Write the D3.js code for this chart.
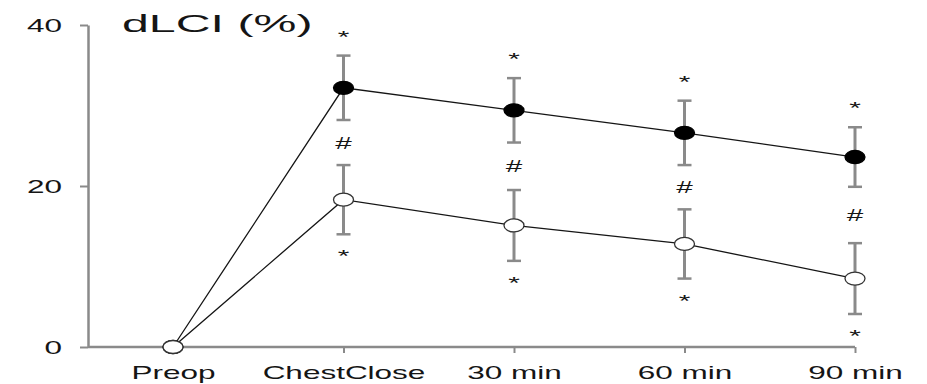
<!DOCTYPE html>
<html>
<head>
<meta charset="utf-8">
<script src="https://cdn.jsdelivr.net/npm/d3@7"></script>
<style>
  body { margin: 0; background: #fff; }
  svg { display: block; font-family: "Liberation Sans", Arial, sans-serif; }
</style>
</head>
<body>
<svg id="chart" width="927" height="384"></svg>
<script>
// data
const categories = ["Preop", "ChestClose", "30 min", "60 min", "90 min"];
const filledMean = [0, 32.2, 29.4, 26.6, 23.6];
const filledErr  = [0, 4.0, 4.0, 4.0, 3.7];
const openMean   = [0, 18.3, 15.1, 12.8, 8.5];
const openErr    = [0, 4.3, 4.4, 4.3, 4.4];
const yTicks = [0, 20, 40];
const sigTop = ["", "*", "*", "*", "*"];   // above filled
const sigMid = ["", "#", "#", "#", "#"];   // between groups
const sigBot = ["", "*", "*", "*", "*"];   // below open

const axisX0 = 88, sx = 1.75;   // the picture is stretched horizontally
const grey = "#8a8a8a", ink = "#151515";

const svg = d3.select("#chart");
const x = d3.scalePoint().domain(categories).range([173, 855]);
const y = d3.scaleLinear().domain([0, 40]).range([347, 25]);

// y axis
const gy = svg.append("g").attr("transform", `translate(${axisX0},0)`)
    .call(d3.axisLeft(y).tickValues(yTicks).tickSize(8).tickSizeOuter(0));
gy.select(".domain").attr("stroke", grey).attr("stroke-width", 2.5);
gy.selectAll(".tick line").attr("stroke", grey).attr("stroke-width", 2);
gy.selectAll(".tick text")
    .attr("x", null).attr("dy", "0.36em")
    .attr("transform", `translate(-26,0) scale(${sx},1)`)
    .attr("fill", ink).attr("font-size", 18);

// x axis
svg.append("line")
    .attr("x1", axisX0).attr("x2", x(categories[categories.length - 1]))
    .attr("y1", y(0)).attr("y2", y(0))
    .attr("stroke", grey).attr("stroke-width", 2.5);
const gx = svg.append("g").attr("transform", `translate(0,${y(0)})`)
    .call(d3.axisBottom(x).tickSize(6).tickSizeOuter(0));
gx.select(".domain").remove();
gx.selectAll(".tick line").attr("stroke", grey).attr("stroke-width", 2);
gx.selectAll(".tick text")
    .attr("y", null).attr("dy", null)
    .attr("transform", `translate(0,32) scale(${sx},1)`)
    .attr("fill", ink).attr("font-size", 18);

// title
svg.append("text").text("dLCI (%)")
    .attr("transform", `translate(122,32) scale(2.1,1)`)
    .attr("fill", ink).attr("font-size", 23);

function drawSeries(mean, err, filled) {
    const pts = categories.map((c, i) => ({ c, m: mean[i], e: err[i] }));
    const g = svg.append("g");
    g.append("path").datum(pts)
        .attr("fill", "none").attr("stroke", ink).attr("stroke-width", 1.3)
        .attr("d", d3.line().x(d => x(d.c)).y(d => y(d.m)));
    const eb = g.selectAll(".eb").data(pts.filter(d => d.e > 0)).enter().append("g")
        .attr("stroke", grey).attr("stroke-width", 3);
    eb.append("line").attr("x1", d => x(d.c)).attr("x2", d => x(d.c))
        .attr("y1", d => y(d.m + d.e)).attr("y2", d => y(d.m - d.e));
    eb.append("line").attr("x1", d => x(d.c) - 7).attr("x2", d => x(d.c) + 7)
        .attr("y1", d => y(d.m + d.e)).attr("y2", d => y(d.m + d.e)).attr("stroke-width", 2.5);
    eb.append("line").attr("x1", d => x(d.c) - 7).attr("x2", d => x(d.c) + 7)
        .attr("y1", d => y(d.m - d.e)).attr("y2", d => y(d.m - d.e)).attr("stroke-width", 2.5);
    g.selectAll("ellipse").data(pts).enter().append("ellipse")
        .attr("cx", d => x(d.c)).attr("cy", d => y(d.m))
        .attr("rx", 10).attr("ry", 6.5)
        .attr("fill", filled ? "#000" : "#fff")
        .attr("stroke", filled ? "#000" : "#333").attr("stroke-width", 1.3);
}
drawSeries(filledMean, filledErr, true);
drawSeries(openMean, openErr, false);

// significance marks
function mark(txt, cx, cy) {
    svg.append("text").text(txt)
        .attr("transform", `translate(${cx},${cy}) scale(${sx},1)`)
        .attr("text-anchor", "middle").attr("fill", ink).attr("font-size", 17);
}
categories.forEach((c, i) => {
    if (sigTop[i]) mark(sigTop[i], x(c), y(filledMean[i] + filledErr[i]) - 13);
    if (sigMid[i]) {
        const mid = (y(filledMean[i] - filledErr[i]) + y(openMean[i] + openErr[i])) / 2;
        mark(sigMid[i], x(c), mid + 6);
    }
    if (sigBot[i]) mark(sigBot[i], x(c), y(openMean[i] - openErr[i]) + 28);
});
</script>
</body>
</html>
